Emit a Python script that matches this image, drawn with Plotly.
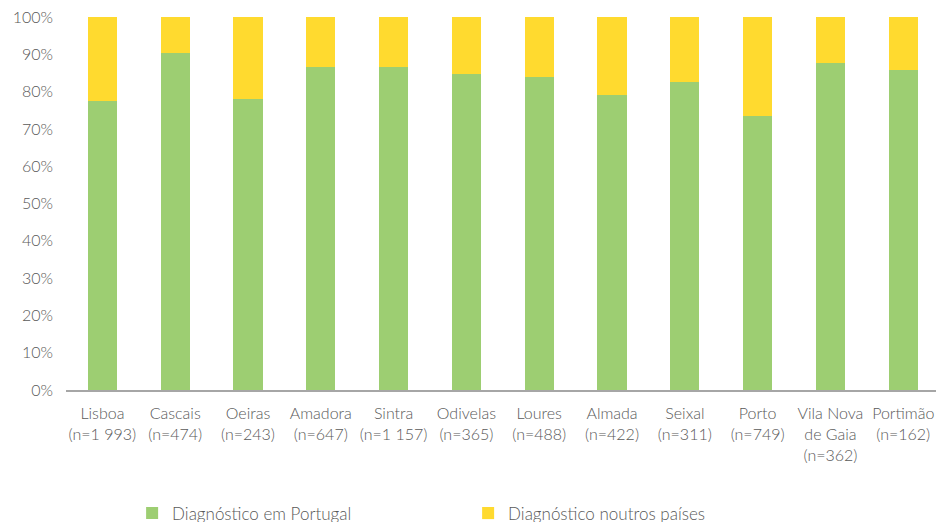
import plotly.graph_objects as go

categories = ["Lisboa<br>(n=1 993)", "Cascais<br>(n=474)", "Oeiras<br>(n=243)", "Amadora<br>(n=647)",
              "Sintra<br>(n=1 157)", "Odivelas<br>(n=365)", "Loures<br>(n=488)", "Almada<br>(n=422)",
              "Seixal<br>(n=311)", "Porto<br>(n=749)", "Vila Nova<br>de Gaia<br>(n=362)", "Portimão<br>(n=162)"]
portugal = [77.5, 90.3, 77.9, 86.6, 86.5, 84.6, 83.8, 79.0, 82.5, 73.4, 87.6, 85.7]
outros = [round(100 - v, 1) for v in portugal]
yticks = list(range(0, 101, 10))
ytick_text = [f"{v}%" for v in yticks]

fig = go.Figure()
fig.add_trace(go.Bar(x=categories, y=portugal, name="Diagnóstico em Portugal",
                     marker=dict(color="#9DCE72", line=dict(width=0))))
fig.add_trace(go.Bar(x=categories, y=outros, name="Diagnóstico noutros países",
                     marker=dict(color="#FFDA2F", line=dict(width=0))))

font_color = "#595959"
fig.update_layout(
    barmode="stack",
    bargap=0.6,
    width=936, height=522,
    margin=dict(l=66, r=0, t=17, b=132, autoexpand=False),
    plot_bgcolor="white", paper_bgcolor="white",
    font=dict(family="Lato, sans-serif", size=16, color=font_color, weight=300),
    showlegend=True,
    legend=dict(orientation="h", x=0.076, xanchor="left", y=-0.283, yanchor="top",
                font=dict(size=17, color=font_color, weight=300),
                entrywidth=291, entrywidthmode="pixels",
                traceorder="normal"),
    xaxis=dict(range=[-0.5, 11.45], showline=True, linecolor="#A6A6A6", linewidth=1.5,
               ticks="", automargin=False, ticklabelstandoff=8,
               tickfont=dict(size=16, color=font_color, weight=300)),
    yaxis=dict(range=[0, 100], tickvals=yticks, ticktext=ytick_text, showgrid=False,
               zeroline=False, showline=False, automargin=False, ticklabelstandoff=12,
               tickfont=dict(size=16, color=font_color, weight=300)),
)

fig.write_html("out.html", config={"displayModeBar": False},
               post_script="document.body.style.margin='0';document.body.style.overflow='hidden';")
